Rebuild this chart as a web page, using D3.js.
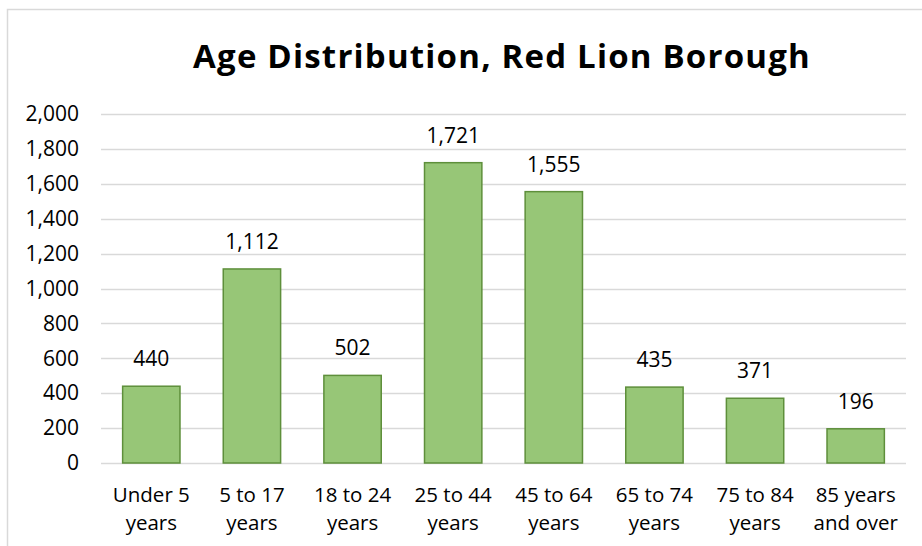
<!DOCTYPE html>
<html><head><meta charset="utf-8">
<script src="https://cdn.jsdelivr.net/npm/d3@7"></script>
<style>
html,body{margin:0;padding:0;background:#fff;}
svg{display:block;font-family:"Open Sans",sans-serif;}
</style></head>
<body>
<svg id="chart" width="922" height="546"></svg>
<script>
const categories = [["Under 5","years"],["5 to 17","years"],["18 to 24","years"],["25 to 44","years"],["45 to 64","years"],["65 to 74","years"],["75 to 84","years"],["85 years","and over"]];
const values = [440, 1112, 502, 1721, 1555, 435, 371, 196];
const yTicks = [0,200,400,600,800,1000,1200,1400,1600,1800,2000];
const title = "Age Distribution, Red Lion Borough";

const svg = d3.select("#chart");
const W = 922, H = 546;
const m = {left:101, right:16, top:114, bottom:83};
const FS = 20.5;

// chart border
svg.append("rect").attr("x",7.5).attr("y",9.5).attr("width",W).attr("height",H)
  .attr("fill","none").attr("stroke","#d9d9d9").attr("stroke-width",1.5);

const x = d3.scaleBand().domain(categories.map((c,i)=>i)).range([m.left, W-m.right]).paddingInner(0.43).paddingOuter(0.215);
const y = d3.scaleLinear().domain([0,2000]).range([H-m.bottom, m.top]);

// gridlines
svg.append("g").selectAll("line").data(yTicks).join("line")
  .attr("x1",m.left).attr("x2",W-m.right)
  .attr("y1",d=>Math.round(y(d))+0.5).attr("y2",d=>Math.round(y(d))+0.5)
  .attr("stroke","#d9d9d9").attr("stroke-width",1.3);

// y axis labels
const yAxis = d3.axisLeft(y).tickValues(yTicks).tickFormat(d3.format(",")).tickSize(0).tickPadding(0);
const gy = svg.append("g").attr("transform",`translate(79,0)`).call(yAxis);
gy.select(".domain").remove();
gy.selectAll("text").attr("font-size",21).attr("fill","#000").attr("font-family","Open Sans");

// bars
svg.append("g").selectAll("rect").data(values).join("rect")
  .attr("x",(d,i)=>x(i)).attr("width",x.bandwidth())
  .attr("y",d=>y(d)).attr("height",d=>y(0)-y(d))
  .attr("fill","#97c677").attr("stroke","#5e8f3b").attr("stroke-width",1.5);

// value labels
svg.append("g").selectAll("text").data(values).join("text")
  .attr("x",(d,i)=>x(i)+x.bandwidth()/2).attr("y",d=>y(d)-20)
  .attr("text-anchor","middle").attr("font-size",21).attr("fill","#000")
  .text(d=>d3.format(",")(d));

// x labels
const xl = svg.append("g").selectAll("text").data(categories).join("text")
  .attr("text-anchor","middle").attr("font-size",FS).attr("fill","#000")
  .attr("transform",(d,i)=>`translate(${x(i)+x.bandwidth()/2},0)`);
xl.selectAll("tspan").data(d=>d).join("tspan")
  .attr("x",0).attr("y",(d,j)=>502+j*28).text(d=>d);

// title
svg.append("text").attr("x",502).attr("y",68).attr("text-anchor","middle")
  .attr("font-size",33).attr("letter-spacing",1.2).attr("font-weight","bold").attr("fill","#000").text(title);
</script>
</body></html>
